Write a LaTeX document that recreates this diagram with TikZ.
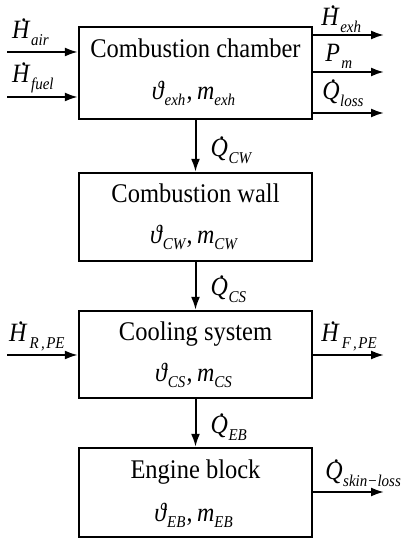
\documentclass[tikz,border=0pt]{standalone}
\usepackage{fontspec}
\usepackage{graphicx}
\setmainfont{Liberation Serif}
\usetikzlibrary{arrows.meta,calc}
\newcommand\vs[1]{\scalebox{1}[1.1]{#1}}
\newcommand\dotsym[1]{{\ooalign{\textit{#1}\cr\hidewidth\kern0.2em\raisebox{0.66em}{.}\hidewidth\cr}}}
\newcommand\sbs[1]{\raisebox{-6pt}{\fontsize{15}{15}\selectfont\itshape #1}}
\newcommand\flw[2]{\vs{\fontsize{24}{26}\selectfont\dotsym{#1}\kern0.02em\sbs{#2}}}
\newcommand\stt[1]{\vs{\fontsize{24}{26}\selectfont\textit{ϑ}\sbs{#1}\kern0.05em,\kern0.18em\textit{m}\sbs{#1}}}
\newcommand\ttl[1]{\vs{\fontsize{24.5}{26}\selectfont #1}}
\begin{document}
\begin{tikzpicture}[x=1pt,y=1pt,
  blk/.style={draw,line width=2.4pt,minimum width=233pt,inner sep=0pt},
  arr/.style={line width=2pt,-{Latex[length=13pt,width=9pt]}},
  lbl/.style={inner sep=0pt,anchor=base west},
  txt/.style={inner sep=0pt,anchor=base}]
\useasboundingbox (0,0) rectangle (403,540);
\node[blk,minimum height=92pt] (b1) at (195.5,467) {};
\node[blk,minimum height=88pt] (b2) at (195.5,323) {};
\node[blk,minimum height=87pt] (b3) at (195.5,185.5) {};
\node[blk,minimum height=89pt] (b4) at (195.5,47.5) {};
% texts
\node[txt] (t1) at ([yshift=-32pt]b1.north) {\ttl{Combustion chamber}};
\node[txt] (s1) at ([xshift=-2pt,yshift=21pt]b1.south) {\stt{exh}};
\node[txt] (t2) at ([yshift=-31pt]b2.north) {\ttl{Combustion wall}};
\node[txt] (s2) at ([xshift=-2pt,yshift=19pt]b2.south) {\stt{CW}};
\node[txt] (t3) at ([yshift=-31pt]b3.north) {\ttl{Cooling system}};
\node[txt] (s3) at ([xshift=-2pt,yshift=18pt]b3.south) {\stt{CS}};
\node[txt] (t4) at ([yshift=-32pt]b4.north) {\ttl{Engine block}};
\node[txt] (s4) at ([xshift=-2pt,yshift=17pt]b4.south) {\stt{EB}};
% arrow end coordinates
\coordinate (ia) at (7,488);
\coordinate (if) at (7,443);
\coordinate (ir) at (7,185);
\coordinate (oe) at (384,505);
\coordinate (op) at (384,468);
\coordinate (ol) at (384,427);
\coordinate (of) at (384,185);
\coordinate (os) at (384,48);
\draw[arr] (ia) -- (ia -| b1.west);
\draw[arr] (if) -- (if -| b1.west);
\draw[arr] (ir) -- (ir -| b3.west);
\draw[arr] (oe -| b1.east) -- (oe);
\draw[arr] (op -| b1.east) -- (op);
\draw[arr] (ol -| b1.east) -- (ol);
\draw[arr] (of -| b3.east) -- (of);
\draw[arr] (os -| b4.east) -- (os);
\draw[arr] (b1.south) -- (b2.north);
\draw[arr] (b2.south) -- (b3.north);
\draw[arr] (b3.south) -- (b4.north);
% labels
\node[lbl] (la) at ([xshift=5pt,yshift=13pt]ia) {\flw{H}{air}};
\node[lbl] (lf) at ([xshift=5pt,yshift=14pt]if) {\flw{H}{fuel}};
\node[lbl] (lr) at ([xshift=2pt,yshift=13pt]ir) {\flw{H}{\kern0.1em R\kern0.15em,\kern0.1em PE}};
\node[lbl] (le) at ([xshift=8pt,yshift=9pt]oe -| b1.east) {\flw{H}{exh}};
\node[lbl] (lp) at ([xshift=12pt,yshift=10pt]op -| b1.east) {\vs{\fontsize{24}{26}\selectfont\textit{P}\kern0.05em\sbs{m}}};
\node[lbl] (lq) at ([xshift=9pt,yshift=13pt]ol -| b1.east) {\flw{Q}{loss}};
\node[lbl] (lF) at ([xshift=8pt,yshift=13pt]of -| b3.east) {\flw{H}{\kern0.1em F\kern0.15em,\kern0.1em PE}};
\node[lbl] (lk) at ([xshift=12pt,yshift=12pt]os -| b4.east) {\flw{Q}{skin−loss}};
\node[lbl] (qcw) at ([xshift=15pt,yshift=15pt]b2.north) {\flw{Q}{CW}};
\node[lbl] (qcs) at ([xshift=15pt,yshift=14pt]b3.north) {\flw{Q}{CS}};
\node[lbl] (qeb) at ([xshift=15pt,yshift=13pt]b4.north) {\flw{Q}{EB}};
\end{tikzpicture}
\end{document}
